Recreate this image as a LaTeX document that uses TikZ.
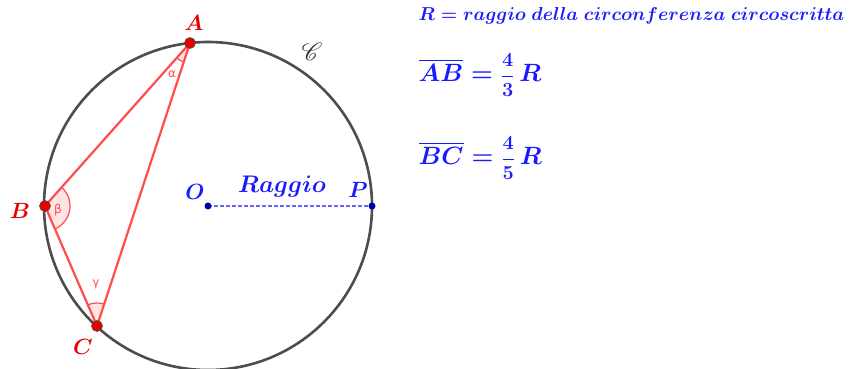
\RequirePackage{fix-cm}
\documentclass[tikz,border=0pt]{standalone}
\usepackage{amsmath,amssymb,mathrsfs}
\usepackage{fontspec}
\newfontfamily\greekfont{DejaVu Sans}
\usetikzlibrary{angles,positioning}
\definecolor{ggred}{RGB}{255,77,77}
\definecolor{ggpoint}{RGB}{230,0,0}
\definecolor{ggblue}{RGB}{26,26,255}
\definecolor{ggdash}{RGB}{102,102,255}
\definecolor{ggdark}{RGB}{0,0,170}
\definecolor{gggray}{RGB}{77,77,77}
\newcommand{\bigfont}[1]{\fontsize{#1}{#1}\selectfont\boldmath}
\newcommand{\ratio}[2]{\mbox{\fontsize{20}{20}\selectfont$\dfrac{#1}{#2}$}}

\begin{document}
\begin{tikzpicture}[x=1pt,y=1pt,
    vertex/.style={circle,fill=ggpoint,draw=black!70,line width=.6pt,inner sep=0pt,minimum size=11pt},
    centre/.style={circle,fill=ggdark,inner sep=0pt,minimum size=7pt},
    redlabel/.style={text=ggpoint,font=\bigfont{22}},
    bluelabel/.style={text=ggblue,font=\bigfont{22}},
    anglemark/.style={draw=ggred,fill=ggred!15,line width=1.2pt},
    greek/.style={text=ggred,font=\greekfont\fontsize{12}{12}\selectfont}]
    \useasboundingbox (0,0) rectangle (851,369);
    % circle and its points
    \coordinate (O) at (208,163);
    \draw[gggray,line width=2.6pt] (O) circle (164);
    \coordinate (A) at (190,326);
    \coordinate (B) at (45,163);
    \coordinate (C) at (97,43);
    \coordinate (P) at (372,163);
    % angles
    \pic[anglemark,angle radius=20] {angle=B--A--C};
    \pic[anglemark,angle radius=25] {angle=C--B--A};
    \pic[anglemark,angle radius=23] {angle=A--C--B};
    \node[greek] (alpha) at (172,295) {α};
    \node[greek] (beta) at (58,159) {β};
    \node[greek] (gamma) at (96,85) {γ};
    % triangle
    \draw[ggred,line width=2.2pt,line join=round] (A) -- (B) -- (C) -- cycle;
    \draw[ggdash,line width=1.4pt,dash pattern=on 4pt off 2pt] (O) -- (P);
    \node[vertex] (pA) at (A) {};
    \node[vertex] (pB) at (B) {};
    \node[vertex] (pC) at (C) {};
    \node[centre] (pO) at (O) {};
    \node[centre] (pP) at (P) {};
    % labels
    \node[redlabel] (lA) at (194,346) {$A$};
    \node[redlabel] (lB) at (20,158) {$B$};
    \node[redlabel] (lC) at (83,22) {$C$};
    \node[bluelabel] (lO) at (195,177) {$O$};
    \node[bluelabel] (lP) at (358,179) {$P$};
    \node[bluelabel,font=\bigfont{24}] (raggio) at (282,182) {$Raggio$};
    \node[font=\bigfont{24},text=black!80] (circ) at (312,317) {$\mathscr{C}$};
    % text on the right
    \node[anchor=west,text=ggblue,font=\bigfont{18.7}] (def) at (415,353)
      {$R = raggio\ della\ circonferenza\ circoscritta$};
    \node[anchor=west,text=ggblue,font=\bigfont{25}] (eqAB) at (415,294)
      {$\overline{AB} = \ratio{4}{3}\,R$};
    \node[anchor=west,text=ggblue,font=\bigfont{25}] (eqBC) at (415,211)
      {$\overline{BC} = \ratio{4}{5}\,R$};
\end{tikzpicture}
\end{document}
